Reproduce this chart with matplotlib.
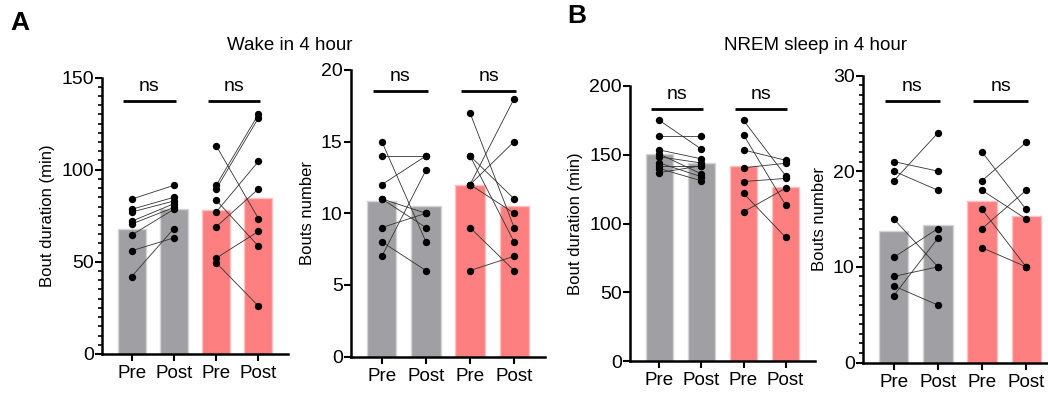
import numpy as np
import matplotlib
matplotlib.use('Agg')
import matplotlib.pyplot as plt
from matplotlib.ticker import MultipleLocator

plt.rcParams['font.family'] = ['Liberation Sans', 'DejaVu Sans']

# paired values (pre[i] -> post[i])
wake_dur_ctl_pre = [84, 78.5, 77, 72, 70.5, 64.5, 56, 42]
wake_dur_ctl_post = [91.5, 85, 83, 81.5, 79.5, 78.5, 63, 68]
wake_dur_exp_pre = [113, 91.5, 89.5, 83.5, 77, 69, 52, 49.5]
wake_dur_exp_post = [73.5, 130, 128, 58.5, 104.5, 89.5, 66.5, 26]

wake_num_ctl_pre = [15, 14, 12, 11, 11, 9, 8, 7]
wake_num_ctl_post = [8, 14, 14, 10, 9, 10, 6, 13]
wake_num_exp_pre = [17, 14, 14, 12, 12, 12, 9, 6]
wake_num_exp_post = [9, 11, 8, 18, 15, 10, 6, 7]

nrem_dur_ctl_pre = [175, 164, 153.5, 150.5, 148.5, 144, 142, 140, 137]
nrem_dur_ctl_post = [154, 164, 147, 136, 144, 134, 142, 131, 142]
nrem_dur_exp_pre = [175, 164.5, 153.5, 140.5, 130.5, 122, 108.5]
nrem_dur_exp_post = [134.8, 113.5, 146, 143.8, 132.8, 90, 125.6]

nrem_num_ctl_pre = [21, 20, 19, 15, 11, 9, 8, 7]
nrem_num_ctl_post = [20, 18, 24, 10, 14, 10, 6, 13]
nrem_num_exp_pre = [22, 19, 18, 16, 14, 12]
nrem_num_exp_post = [16, 23, 15, 10, 18, 10]

tick_labels = ['Pre', 'Post', 'Pre', 'Post']
gray = '#a0a0a4'
red = '#fe7f7f'

W, H = 1048, 396
fig = plt.figure(figsize=(W / 100, H / 100), dpi=100)


def px_axes(left, top, right, bottom):
    return fig.add_axes([left / W, 1 - bottom / H, (right - left) / W, (bottom - top) / H])


def panel(ax, data, ymax, ystep, minor, ylabel, sig_y):
    ctl_pre, ctl_post, exp_pre, exp_post = data
    groups = [ctl_pre, ctl_post, exp_pre, exp_post]
    colors = [gray, gray, red, red]
    edges = ['#d4d4d6', '#d4d4d6', '#ffc0c0', '#ffc0c0']
    for i, g in enumerate(groups):
        ax.bar(i, np.mean(g), width=0.66, color=colors[i], edgecolor=edges[i],
               linewidth=1.0, zorder=1)
    for a, b, x0 in [(ctl_pre, ctl_post, 0), (exp_pre, exp_post, 2)]:
        for p, q in zip(a, b):
            ax.plot([x0, x0 + 1], [p, q], color='#333333', lw=0.6, zorder=2)
        ax.scatter([x0] * len(a), a, s=28, color='black', zorder=3, linewidths=0)
        ax.scatter([x0 + 1] * len(b), b, s=28, color='black', zorder=3, linewidths=0)
    for x0 in (0, 2):
        ax.plot([x0 - 0.2, x0 + 1.04], [sig_y, sig_y], color='black', lw=2.0,
                solid_capstyle='butt', clip_on=False)
        ax.text(x0 + 0.42, sig_y + ymax * 0.022, 'ns', ha='center', va='bottom',
                fontsize=14)
    ax.set_xlim(-0.7, 3.7)
    ax.set_ylim(0, ymax)
    ax.yaxis.set_major_locator(MultipleLocator(ystep))
    if minor:
        ax.yaxis.set_minor_locator(MultipleLocator(minor))
    ax.set_xticks(range(4))
    ax.set_xticklabels(tick_labels, fontsize=13.5)
    ax.tick_params(axis='y', labelsize=14, width=1.5, length=5, pad=1)
    ax.tick_params(axis='x', width=1.5, length=5, pad=3)
    ax.tick_params(axis='y', which='minor', width=1.2, length=3)
    for s in ('top', 'right'):
        ax.spines[s].set_visible(False)
    for s in ('left', 'bottom'):
        ax.spines[s].set_linewidth(1.8)
    ax.set_ylabel(ylabel, fontsize=12, labelpad=4)


ax1 = px_axes(102, 77.5, 288, 354)
panel(ax1, (wake_dur_ctl_pre, wake_dur_ctl_post, wake_dur_exp_pre, wake_dur_exp_post),
      150, 50, 5, 'Bout duration (min)', 137)

ax2 = px_axes(351, 70, 545, 356.5)
panel(ax2, (wake_num_ctl_pre, wake_num_ctl_post, wake_num_exp_pre, wake_num_exp_post),
      20, 5, None, 'Bouts number', 18.5)

ax3 = px_axes(630, 86, 815, 361)
panel(ax3, (nrem_dur_ctl_pre, nrem_dur_ctl_post, nrem_dur_exp_pre, nrem_dur_exp_post),
      200, 50, None, 'Bout duration (min)', 183)

ax4 = px_axes(863, 75.5, 1057, 362.5)
panel(ax4, (nrem_num_ctl_pre, nrem_num_ctl_post, nrem_num_exp_pre, nrem_num_exp_post),
      30, 10, 1, 'Bouts number', 27.3)

fig.text(290 / W, 1 - 45 / H, 'Wake in 4 hour', ha='center', va='center', fontsize=13.5)
fig.text(815 / W, 1 - 45 / H, 'NREM sleep in 4 hour', ha='center', va='center', fontsize=13.5)
fig.text(10 / W, 1 - 23 / H, 'A', ha='left', va='center', fontsize=19, fontweight='bold')
fig.text(567 / W, 1 - 16 / H, 'B', ha='left', va='center', fontsize=19, fontweight='bold')

fig.savefig('out.png', dpi=100)
